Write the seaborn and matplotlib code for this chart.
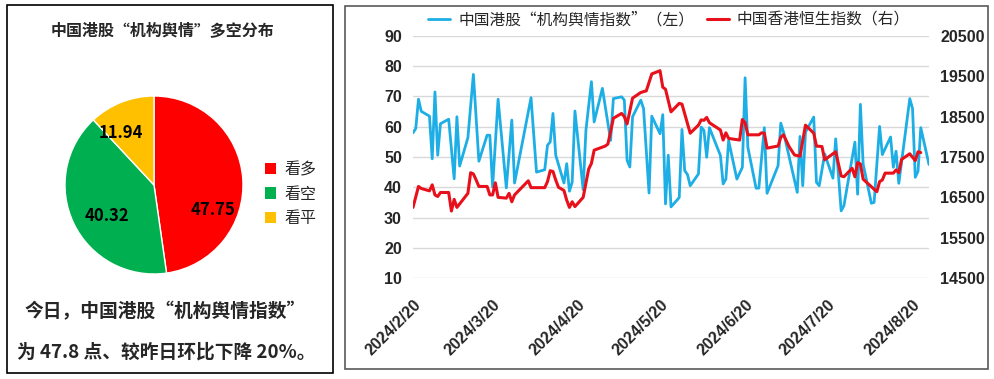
import pandas as pd
import matplotlib
matplotlib.use("Agg")
import matplotlib.pyplot as plt
from matplotlib.patches import Rectangle, Patch
from matplotlib.lines import Line2D
import seaborn as sns

# left panel: bull / bear / neutral split
pie_labels = ["看多", "看空", "看平"]
pie_values = [47.75, 40.32, 11.94]
pie_colors = ["#FF0000", "#00B050", "#FFC000"]

# right panel: sentiment index (left axis)
sent_dates = [
    "2024-02-20", "2024-02-21", "2024-02-22", "2024-02-23", "2024-02-26", "2024-02-27",
    "2024-02-28", "2024-02-29", "2024-03-01", "2024-03-04", "2024-03-06", "2024-03-07",
    "2024-03-08", "2024-03-11", "2024-03-13", "2024-03-15", "2024-03-18", "2024-03-19",
    "2024-03-20", "2024-03-22", "2024-03-25", "2024-03-27", "2024-03-28", "2024-04-03",
    "2024-04-05", "2024-04-08", "2024-04-09", "2024-04-10", "2024-04-11", "2024-04-12",
    "2024-04-15", "2024-04-16", "2024-04-17", "2024-04-18", "2024-04-19", "2024-04-22",
    "2024-04-23", "2024-04-25", "2024-04-26", "2024-04-29", "2024-05-02", "2024-05-03",
    "2024-05-06", "2024-05-07", "2024-05-08", "2024-05-09", "2024-05-10", "2024-05-13",
    "2024-05-14", "2024-05-16", "2024-05-17", "2024-05-20", "2024-05-21", "2024-05-22",
    "2024-05-23", "2024-05-24", "2024-05-27", "2024-05-28", "2024-05-29", "2024-05-30",
    "2024-05-31", "2024-06-03", "2024-06-04", "2024-06-05", "2024-06-06", "2024-06-07",
    "2024-06-11", "2024-06-12", "2024-06-13", "2024-06-14", "2024-06-17", "2024-06-19",
    "2024-06-20", "2024-06-21", "2024-06-24", "2024-06-25", "2024-06-27", "2024-06-28",
    "2024-07-02", "2024-07-03", "2024-07-04", "2024-07-09", "2024-07-10", "2024-07-11",
    "2024-07-12", "2024-07-15", "2024-07-16", "2024-07-17", "2024-07-19", "2024-07-22",
    "2024-07-23", "2024-07-25", "2024-07-26", "2024-07-30", "2024-07-31", "2024-08-01",
    "2024-08-02", "2024-08-05", "2024-08-06", "2024-08-08", "2024-08-09", "2024-08-12",
    "2024-08-13", "2024-08-14", "2024-08-15", "2024-08-19", "2024-08-20", "2024-08-21",
    "2024-08-22", "2024-08-23", "2024-08-26",
]
sent_values = [
    58.0, 59.4, 69.1, 65.1, 63.5, 49.4,
    71.5, 50.6, 61.0, 62.5, 42.8, 63.3,
    47.0, 56.4, 77.3, 48.6, 57.2, 57.2,
    40.1, 69.1, 39.8, 62.2, 41.4, 69.6,
    45.0, 45.8, 53.9, 55.0, 64.4, 50.6,
    41.4, 47.8, 38.7, 41.7, 65.2, 39.2,
    58.8, 74.9, 61.6, 72.7, 55.5, 69.3,
    69.9, 68.8, 48.9, 46.7, 63.3, 68.8,
    66.0, 38.1, 63.5, 57.7, 64.0, 34.5,
    50.6, 33.5, 36.6, 59.1, 45.5, 44.2,
    40.5, 44.4, 59.9, 58.8, 49.9, 59.7,
    50.5, 41.1, 42.7, 55.4, 42.7, 46.6,
    76.2, 53.2, 39.7, 39.7, 59.7, 38.0,
    47.1, 61.2, 58.2, 38.3, 56.8, 40.5,
    58.2, 63.2, 41.6, 40.5, 51.0, 43.0,
    56.0, 32.2, 33.9, 54.9, 37.7, 67.4,
    47.7, 34.7, 35.0, 60.1, 50.8, 56.6,
    46.6, 51.9, 41.3, 69.3, 66.0, 43.3,
    45.3, 59.7, 47.5,
]

# right panel: Hang Seng index (right axis)
hsi_dates = [
    "2024-02-20", "2024-02-22", "2024-02-23", "2024-02-26", "2024-02-27", "2024-02-28",
    "2024-02-29", "2024-03-01", "2024-03-04", "2024-03-05", "2024-03-06", "2024-03-07",
    "2024-03-11", "2024-03-12", "2024-03-13", "2024-03-14", "2024-03-15", "2024-03-18",
    "2024-03-19", "2024-03-20", "2024-03-21", "2024-03-22", "2024-03-25", "2024-03-26",
    "2024-03-27", "2024-03-28", "2024-04-02", "2024-04-03", "2024-04-08", "2024-04-09",
    "2024-04-10", "2024-04-11", "2024-04-12", "2024-04-13", "2024-04-15", "2024-04-16",
    "2024-04-17", "2024-04-18", "2024-04-19", "2024-04-22", "2024-04-24", "2024-04-25",
    "2024-04-26", "2024-04-30", "2024-05-01", "2024-05-02", "2024-05-03", "2024-05-06",
    "2024-05-07", "2024-05-08", "2024-05-10", "2024-05-13", "2024-05-15", "2024-05-17",
    "2024-05-20", "2024-05-21", "2024-05-22", "2024-05-24", "2024-05-27", "2024-05-28",
    "2024-05-31", "2024-06-03", "2024-06-04", "2024-06-05", "2024-06-06", "2024-06-07",
    "2024-06-11", "2024-06-12", "2024-06-13", "2024-06-14", "2024-06-18", "2024-06-19",
    "2024-06-20", "2024-06-21", "2024-06-25", "2024-06-26", "2024-06-27", "2024-06-28",
    "2024-07-01", "2024-07-02", "2024-07-03", "2024-07-04", "2024-07-06", "2024-07-08",
    "2024-07-10", "2024-07-12", "2024-07-15", "2024-07-16", "2024-07-18", "2024-07-19",
    "2024-07-23", "2024-07-25", "2024-07-26", "2024-07-29", "2024-07-30", "2024-07-31",
    "2024-08-01", "2024-08-02", "2024-08-06", "2024-08-07", "2024-08-08", "2024-08-09",
    "2024-08-10", "2024-08-13", "2024-08-14", "2024-08-15", "2024-08-16", "2024-08-19",
    "2024-08-21", "2024-08-22", "2024-08-23",
]
hsi_values = [
    16250, 16770, 16720, 16660, 16810, 16560,
    16520, 16620, 16620, 16160, 16450, 16250,
    16600, 17110, 17080, 16930, 16770, 16770,
    16560, 16560, 16860, 16500, 16480, 16600,
    16390, 16560, 16910, 16740, 16740, 16890,
    17160, 17140, 16930, 16750, 16670, 16430,
    16250, 16390, 16270, 16500, 17200, 17340,
    17670, 17770, 17820, 18130, 18460, 18580,
    18500, 18320, 18960, 19100, 19140, 19560,
    19640, 19230, 19180, 18620, 18830, 18810,
    18090, 18290, 18420, 18410, 18480, 18350,
    18170, 17920, 18100, 17960, 17920, 18430,
    18350, 18050, 18050, 18100, 18090, 17720,
    17760, 17770, 17990, 18050, 17760, 17550,
    17520, 18290, 18090, 17770, 17760, 17430,
    17630, 17030, 17010, 17220, 17010, 17360,
    17330, 16950, 16700, 16640, 16890, 16930,
    17100, 17100, 17180, 17110, 17440, 17580,
    17410, 17630, 17610,
]

left_ticks = [10, 20, 30, 40, 50, 60, 70, 80, 90]
right_ticks = [14500, 15500, 16500, 17500, 18500, 19500, 20500]
xtick_dates = ["2024-02-20", "2024-03-20", "2024-04-20", "2024-05-20",
               "2024-06-20", "2024-07-20", "2024-08-20"]
xtick_labels = ["2024/2/20", "2024/3/20", "2024/4/20", "2024/5/20",
                "2024/6/20", "2024/7/20", "2024/8/20"]
legend_labels = ["中国港股“机构舆情指数”（左）", "中国香港恒生指数（右）"]

BLUE = "#1DAEE6"
RED = "#E8101A"
W, H = 995, 379

sns.set_theme(style="white")
plt.rcParams["font.family"] = ["Noto Sans CJK SC", "DejaVu Sans"]
num_font = ["Liberation Sans", "DejaVu Sans"]

fig = plt.figure(figsize=(W / 100, H / 100), dpi=100)
fig.patch.set_facecolor("white")

# panel frames
fig.add_artist(Rectangle((7 / W, 1 - 373 / H), 326 / W, 368 / H, transform=fig.transFigure,
                         fill=False, ec="black", lw=1.2))
fig.add_artist(Rectangle((345 / W, 1 - 369 / H), 643 / W, 363 / H, transform=fig.transFigure,
                         fill=False, ec="#595959", lw=1.2))

# ---- left panel ----
fig.text(163 / W, 1 - 30 / H, "中国港股“机构舆情”多空分布", ha="center", va="center",
         fontsize=11.5, fontweight="bold")

axp = fig.add_axes([(154 - 89) / W, 1 - (185 + 89) / H, 178 / W, 178 / H])
wedges, _ = axp.pie(pie_values, colors=pie_colors, startangle=90, counterclock=False,
                    wedgeprops=dict(edgecolor="white", linewidth=1))
axp.set_xlim(-1, 1)
axp.set_ylim(-1, 1)
axp.set_aspect("equal")
axp.axis("off")
label_pos = [(0.66, -0.28), (-0.53, -0.35), (-0.37, 0.58)]
for v, (px, py) in zip(pie_values, label_pos):
    axp.text(px, py, f"{v:.2f}", ha="center", va="center", fontsize=12,
             fontweight="bold", color="black")

handles = [Patch(facecolor=c, edgecolor="none") for c in pie_colors]
fig.legend(handles, pie_labels, loc="center left", bbox_to_anchor=(265 / W, 1 - 194 / H),
           frameon=False, fontsize=11.5, handlelength=0.7, handleheight=0.7,
           handletextpad=0.5, labelspacing=0.45, borderpad=0, borderaxespad=0)

fig.text(165 / W, 1 - 312 / H, "今日，中国港股“机构舆情指数”", ha="center", va="center",
         fontsize=13.5, fontweight="bold")
fig.text(166 / W, 1 - 352 / H, "为 47.8 点、较昨日环比下降 20%。", ha="center", va="center",
         fontsize=13.5, fontweight="bold")

# ---- right panel ----
ax = fig.add_axes([413 / W, 1 - 278 / H, 516 / W, 242 / H])
ax2 = ax.twinx()
sns.lineplot(x=pd.to_datetime(sent_dates), y=sent_values, ax=ax, color=BLUE, lw=2.0, legend=False)
sns.lineplot(x=pd.to_datetime(hsi_dates), y=hsi_values, ax=ax2, color=RED, lw=2.2, legend=False)

ax.set_xlim(pd.Timestamp(sent_dates[0]), pd.Timestamp(sent_dates[-1]))
ax.set_ylim(10, 90)
ax2.set_ylim(14500, 20500)
ax.set_yticks(left_ticks, [str(t) for t in left_ticks], fontweight="bold",
              fontfamily=num_font, fontsize=11.5)
ax2.set_yticks(right_ticks, [str(t) for t in right_ticks], fontweight="bold",
               fontfamily=num_font, fontsize=11.5)
ax.set_xticks(pd.to_datetime(xtick_dates), xtick_labels, rotation=45, ha="right",
              rotation_mode="anchor", fontfamily=num_font, fontsize=11.5, fontweight="bold")
ax.tick_params(axis="x", length=0, pad=14)
ax.tick_params(axis="y", length=0, pad=8)
ax2.tick_params(axis="y", length=0, pad=8)
ax.set_xlabel("")
ax.set_ylabel("")
ax2.set_ylabel("")
ax.yaxis.grid(True, color="#D9D9D9", lw=1)
ax.xaxis.grid(False)
ax2.grid(False)
for a in (ax, ax2):
    for s in a.spines.values():
        s.set_visible(False)
    a.patch.set_alpha(0)

lh = [Line2D([], [], color=BLUE, lw=2.0), Line2D([], [], color=RED, lw=2.2)]
fig.legend(lh, legend_labels, loc="center", bbox_to_anchor=(669 / W, 1 - 20 / H), ncol=2,
           frameon=False, fontsize=11.3, handlelength=1.4, columnspacing=0.8,
           handletextpad=0.5, borderpad=0, borderaxespad=0)

fig.savefig("out.png", dpi=100)
